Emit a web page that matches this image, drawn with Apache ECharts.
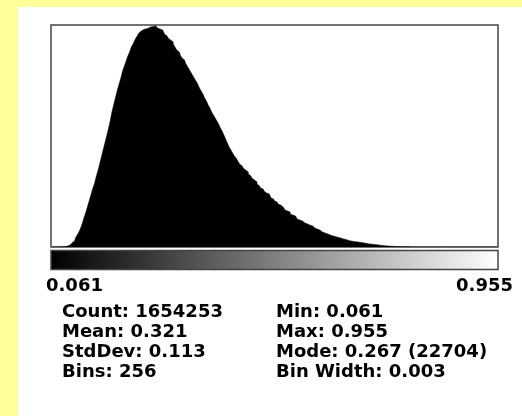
<!DOCTYPE html>
<html>
<head>
<meta charset="utf-8">
<script src="https://cdn.jsdelivr.net/npm/echarts@6/dist/echarts.min.js"></script>
<style>
html,body{margin:0;padding:0;background:#ffff99;}
#chart{width:522px;height:416px;}
</style>
</head>
<body>
<div id="chart"></div>
<script>
// ---- Data (256 bins) ----
const histMin = 0.061;
const histMax = 0.955;
const binWidth = 0.003;
const counts = [
  3, 5, 8, 12, 18, 26, 30, 40, 55, 103,
  205, 308, 411, 616, 924, 1232, 1541, 1951, 2465, 3081,
  3595, 4211, 4827, 5443, 6059, 6573, 7292, 7908, 8627, 9346,
  10065, 10784, 11502, 12221, 13043, 13967, 14686, 15405, 16124, 16740,
  17356, 18075, 18589, 19102, 19616, 20027, 20540, 20848, 21259, 21567,
  21875, 22081, 22286, 22389, 22491, 22450, 22594, 22560, 22650, 22704,
  22620, 22491, 22389, 22286, 22081, 21875, 21670, 21464, 21259, 21054,
  20848, 20540, 20232, 20027, 19718, 19410, 19205, 18897, 18589, 18281,
  17973, 17664, 17356, 17048, 16740, 16329, 16021, 15713, 15302, 14994,
  14583, 14275, 13865, 13556, 13248, 12940, 12632, 12221, 11913, 11502,
  11092, 10681, 10270, 9962, 9654, 9346, 9140, 8832, 8524, 8319,
  8113, 7908, 7703, 7497, 7292, 7086, 6881, 6676, 6470, 6265,
  6059, 5957, 5751, 5546, 5443, 5238, 5032, 4930, 4724, 4622,
  4416, 4313, 4108, 4005, 3800, 3697, 3595, 3389, 3286, 3184,
  3081, 2876, 2773, 2670, 2568, 2465, 2362, 2259, 2230, 2157,
  2054, 1951, 1849, 1746, 1643, 1541, 1438, 1386, 1335, 1232,
  1181, 1130, 1078, 1027, 976, 924, 873, 822, 770, 719,
  668, 616, 585, 555, 534, 514, 493, 462, 431, 401,
  370, 339, 308, 288, 267, 246, 226, 205, 185, 164,
  144, 123, 103, 92, 82, 72, 62, 51, 41, 36,
  31, 26, 21, 18, 15, 12, 10, 9, 8, 7,
  6, 6, 5, 5, 4, 4, 3, 3, 3, 2,
  2, 2, 2, 2, 1, 1, 1, 1, 1, 1,
  1, 0, 1, 0, 0, 1, 0, 0, 0, 0,
  1, 0, 0, 0, 0, 0, 0, 0, 0, 0,
  0, 0, 0, 0, 0, 1
];
const binLabels = counts.map((_, i) => (histMin + i * binWidth).toFixed(3));
const rangeLabels = ['0.061', '0.955'];
const statsLeft = ['Count: 1654253', 'Mean: 0.321', 'StdDev: 0.113', 'Bins: 256'];
const statsRight = ['Min: 0.061', 'Max: 0.955', 'Mode: 0.267 (22704)', 'Bin Width: 0.003'];

// ---- Layout ----
const FONT = 'bold 18px "DejaVu Sans", sans-serif';
const plot = { left: 51, top: 25, width: 447, height: 222 };
const rowY = [312, 332, 352, 372];

const graphics = [
  { type: 'rect', z: -100, silent: true,
    shape: { x: 18, y: 7, width: 504, height: 409 },
    style: { fill: '#ffffff' } },
  { type: 'rect', z: 10, silent: true,
    shape: { x: plot.left, y: 250.5, width: plot.width, height: 19 },
    style: {
      fill: new echarts.graphic.LinearGradient(0, 0, 1, 0, [
        { offset: 0, color: '#000000' },
        { offset: 1, color: '#ffffff' }
      ]),
      stroke: '#444444', lineWidth: 1.5
    } },
  { type: 'text', z: 10, x: 46, y: 286.5,
    style: { text: rangeLabels[0], font: FONT, fill: '#000', align: 'left', verticalAlign: 'middle' } },
  { type: 'text', z: 10, x: 513, y: 286.5,
    style: { text: rangeLabels[1], font: FONT, fill: '#000', align: 'right', verticalAlign: 'middle' } }
];
statsLeft.forEach((t, i) => graphics.push({ type: 'text', z: 10, x: 62, y: rowY[i],
  style: { text: t, font: FONT, fill: '#000', align: 'left', verticalAlign: 'middle' } }));
statsRight.forEach((t, i) => graphics.push({ type: 'text', z: 10, x: 276, y: rowY[i],
  style: { text: t, font: FONT, fill: '#000', align: 'left', verticalAlign: 'middle' } }));

const chart = echarts.init(document.getElementById('chart'), null, { renderer: 'canvas' });
chart.setOption({
  animation: false,
  backgroundColor: '#ffff99',
  grid: {
    left: plot.left, top: plot.top, width: plot.width, height: plot.height,
    show: true, backgroundColor: '#ffffff', borderColor: '#444444', borderWidth: 1.5
  },
  xAxis: {
    type: 'category', data: binLabels, boundaryGap: true,
    axisLine: { show: false }, axisTick: { show: false }, axisLabel: { show: false },
    splitLine: { show: false }
  },
  yAxis: {
    type: 'value', min: 0, max: 22800,
    axisLine: { show: false }, axisTick: { show: false }, axisLabel: { show: false },
    splitLine: { show: false }
  },
  series: [{
    type: 'line',
    data: counts,
    step: 'middle',
    symbol: 'none',
    lineStyle: { color: '#000000', width: 0.5 },
    areaStyle: { color: '#000000', opacity: 1 },
    silent: true
  }],
  graphic: graphics
});
</script>
</body>
</html>
